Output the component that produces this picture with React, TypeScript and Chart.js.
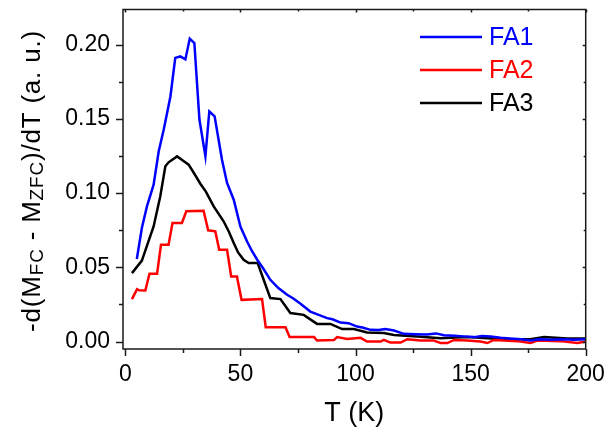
import React, { useEffect, useRef } from "react";
import { Chart, registerables } from "chart.js";
Chart.register(...registerables);

const FONT = "'Liberation Sans', Arial, sans-serif";

const fa1T = [5, 7.2, 9.4, 12.3, 14.5, 16.7, 19.6, 21.7, 23.9, 26.1, 28, 30, 32.2, 34.8, 36.5, 38.8, 42, 44.2, 47.1, 50, 52.9, 55, 57.3, 60, 63, 66.5, 70.3, 73, 76.1, 80.4, 84, 87.7, 90, 93.5, 97, 100.7, 103, 106.5, 110, 113, 116.7, 121, 126, 131, 135, 138.4, 143, 147, 151.4, 155, 158.7, 163, 167, 172, 176, 180, 185, 190, 195, 200];
const fa1V = [0.0556, 0.0765, 0.091, 0.1057, 0.128, 0.1428, 0.165, 0.191, 0.192, 0.19, 0.204, 0.201, 0.1495, 0.1248, 0.155, 0.1517, 0.1225, 0.1068, 0.0955, 0.0775, 0.0674, 0.061, 0.0551, 0.049, 0.0416, 0.036, 0.0315, 0.029, 0.0255, 0.0202, 0.018, 0.0158, 0.015, 0.0128, 0.0124, 0.0101, 0.0095, 0.0079, 0.0078, 0.0085, 0.0074, 0.0052, 0.005, 0.0047, 0.0055, 0.0043, 0.004, 0.0035, 0.003, 0.0037, 0.0034, 0.0025, 0.002, 0.0015, 0.0007, 0.0015, 0.0013, 0.0016, 0.0012, 0.0016];

const fa2T = [2.9, 5.1, 6, 8.7, 10.5, 13.8, 15.5, 18.8, 20.5, 24.6, 26.5, 34, 36, 39.1, 40.8, 44.2, 46, 48.5, 50.5, 59.4, 61, 69.6, 71.4, 82, 83.3, 90.6, 92, 96.4, 102.2, 105, 110.9, 112.3, 115.2, 119.6, 122.5, 128.3, 134, 137, 139.9, 142.8, 148.6, 154.3, 157.3, 160.1, 170.3, 176, 179, 189, 196.4, 200];
const fa2V = [0.0286, 0.0353, 0.0345, 0.0344, 0.0457, 0.0457, 0.0652, 0.0652, 0.0798, 0.0798, 0.0877, 0.0881, 0.0749, 0.0742, 0.0618, 0.0618, 0.0438, 0.0438, 0.0281, 0.0286, 0.0097, 0.0097, 0.003, 0.003, 0.0007, 0.001, 0.003, 0.0018, 0.0025, 0.0, 0.0, 0.0011, -0.0007, -0.0007, 0.0016, 0.0007, 0.0007, -0.001, -0.001, 0.0011, 0.0007, 0.0, -0.001, 0.0011, 0.0003, -0.001, 0.0007, 0.0003, -0.001, 0.0];

const fa3T = [2.9, 7.2, 9.5, 12.3, 15.2, 17.4, 18.8, 22.5, 25, 27.5, 30, 32.6, 35, 38.4, 42.7, 45, 47.1, 49, 51.4, 53.6, 57.5, 60.1, 63, 67.4, 71.7, 77.5, 83.3, 89.1, 94.2, 99.3, 105, 112.3, 116.7, 126.8, 137, 148.6, 157.3, 166, 176, 181.9, 192, 200];
const fa3V = [0.0461, 0.0545, 0.065, 0.0775, 0.0978, 0.118, 0.1207, 0.1247, 0.122, 0.1191, 0.113, 0.1063, 0.101, 0.091, 0.081, 0.074, 0.0664, 0.06, 0.0551, 0.0529, 0.0529, 0.0416, 0.0293, 0.0286, 0.0192, 0.018, 0.0119, 0.0119, 0.0084, 0.0084, 0.0061, 0.0057, 0.0045, 0.0034, 0.0023, 0.003, 0.0023, 0.0016, 0.0016, 0.003, 0.002, 0.002];

const seriesNames = ["FA1", "FA2", "FA3"];
const seriesColors = ["#0000FF", "#FF0000", "#000000"];
const xTicks = [0, 50, 100, 150, 200];
const xMinor = [25, 75, 125, 175];
const yTicks = [0, 0.05, 0.1, 0.15, 0.2];
const yMinor = [0.025, 0.075, 0.125, 0.175];

const toPts = (t: number[], v: number[]) => t.map((x, i) => ({ x, y: v[i] }));

const framePlugin = {
  id: "frame",
  afterDraw(chart: any) {
    const ctx = chart.ctx;
    const { left, right, top, bottom } = chart.chartArea;
    const xs = chart.scales.x;
    const ys = chart.scales.y;
    ctx.save();
    ctx.strokeStyle = "#1a1a1a";
    ctx.lineWidth = 1.5;
    ctx.strokeRect(left, top, right - left, bottom - top);
    ctx.beginPath();
    xTicks.forEach((v) => {
      const p = Math.round(xs.getPixelForValue(v)) + 0.5;
      ctx.moveTo(p, bottom); ctx.lineTo(p, bottom + 7);
      ctx.moveTo(p, top); ctx.lineTo(p, top + 3);
    });
    xMinor.forEach((v) => {
      const p = Math.round(xs.getPixelForValue(v)) + 0.5;
      ctx.moveTo(p, bottom); ctx.lineTo(p, bottom + 4);
      ctx.moveTo(p, top); ctx.lineTo(p, top + 2);
    });
    yTicks.forEach((v) => {
      const p = Math.round(ys.getPixelForValue(v)) + 0.5;
      ctx.moveTo(left, p); ctx.lineTo(left - 7, p);
      ctx.moveTo(right, p); ctx.lineTo(right - 3, p);
    });
    yMinor.forEach((v) => {
      const p = Math.round(ys.getPixelForValue(v)) + 0.5;
      ctx.moveTo(left, p); ctx.lineTo(left - 4, p);
      ctx.moveTo(right, p); ctx.lineTo(right - 2, p);
    });
    ctx.stroke();

    // legend
    ctx.lineWidth = 2.5;
    ctx.font = `25px ${FONT}`;
    ctx.textBaseline = "middle";
    ctx.textAlign = "left";
    seriesNames.forEach((n, i) => {
      const y = 37 + i * 33;
      ctx.strokeStyle = seriesColors[i];
      ctx.beginPath();
      ctx.moveTo(420, y); ctx.lineTo(482, y);
      ctx.stroke();
      ctx.fillStyle = seriesColors[i];
      ctx.fillText(n, 489, y + 1);
    });

    // y title with subscripts
    const big = 26;
    const small = 19;
    const parts: [string, boolean][] = [["-d(M", false], ["FC", true], [" - M", false], ["ZFC", true], [")/dT (a. u.)", false]];
    try { (ctx as any).letterSpacing = "0.8px"; } catch (e) {}
    let total = 0;
    parts.forEach(([s, sub]) => {
      ctx.font = `${sub ? small : big}px ${FONT}`;
      total += ctx.measureText(s).width;
    });
    ctx.translate(40, 181);
    ctx.rotate(-Math.PI / 2);
    ctx.fillStyle = "#000";
    ctx.textBaseline = "alphabetic";
    let x = -total / 2;
    parts.forEach(([s, sub]) => {
      ctx.font = `${sub ? small : big}px ${FONT}`;
      ctx.fillText(s, x, sub ? 3 : 0);
      x += ctx.measureText(s).width;
    });
    ctx.restore();
  },
};

export default function App() {
  const ref = useRef<HTMLCanvasElement>(null);
  useEffect(() => {
    const tv = [fa1T, fa2T, fa3T];
    const vv = [fa1V, fa2V, fa3V];
    const chart = new Chart(ref.current!, {
      type: "line",
      data: {
        datasets: seriesNames.map((n, i) => ({
          label: n,
          data: toPts(tv[i], vv[i]),
          borderColor: seriesColors[i],
          backgroundColor: seriesColors[i],
          borderWidth: 2.5,
          pointRadius: 0,
          tension: 0,
          fill: false,
        })),
      },
      options: {
        animation: false,
        responsive: true,
        maintainAspectRatio: false,
        layout: { padding: { top: 9.5, right: 20.3, left: 0, bottom: 0 } },
        plugins: { legend: { display: false }, tooltip: { enabled: false } },
        scales: {
          x: {
            type: "linear",
            min: -1,
            max: 200,
            afterBuildTicks: (s: any) => { s.ticks = xTicks.map((v) => ({ value: v })); },
            afterFit: (s: any) => { s.height = 81; s.paddingLeft = 0; s.paddingRight = 0; },
            grid: { display: false, drawTicks: false },
            border: { display: false },
            ticks: { color: "#000", font: { family: FONT, size: 23 }, padding: 12, maxRotation: 0, callback: (v: any) => String(v) },
            title: { display: true, text: "T (K)", color: "#000", font: { family: FONT, size: 27 }, padding: { top: 0, bottom: 0 } },
          },
          y: {
            type: "linear",
            min: -0.005,
            max: 0.2236,
            afterBuildTicks: (s: any) => { s.ticks = yTicks.map((v) => ({ value: v })); },
            afterFit: (s: any) => { s.width = 123; s.paddingTop = 0; s.paddingBottom = 0; },
            grid: { display: false, drawTicks: false },
            border: { display: false },
            ticks: { color: "#000", font: { family: FONT, size: 23 }, padding: 13, callback: (v: any) => Number(v).toFixed(2) },
          },
        },
      },
      plugins: [framePlugin],
    });
    return () => chart.destroy();
  }, []);
  return (
    <div style={{ position: "absolute", left: 0, top: 0, width: 606, height: 430, background: "#fff" }}>
      <canvas ref={ref} />
    </div>
  );
}
